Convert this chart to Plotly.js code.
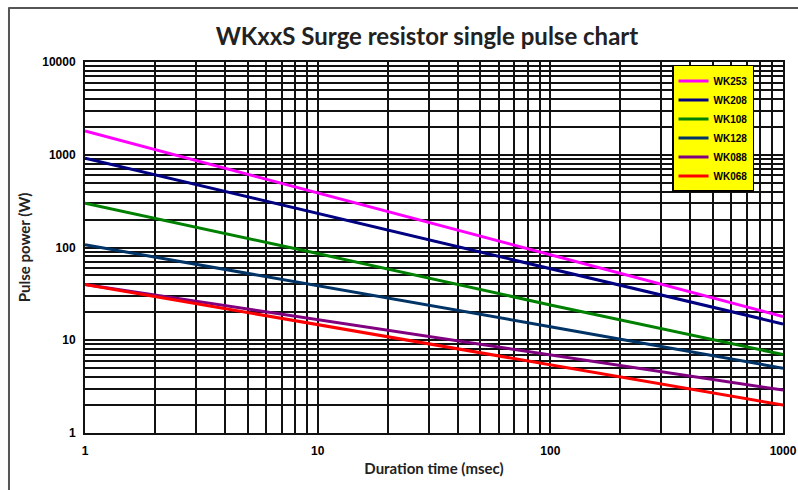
<!DOCTYPE html>
<html>
<head>
<meta charset="utf-8">
<script src="https://cdn.plot.ly/plotly-3.0.1.min.js"></script>
<style>html,body{margin:0;padding:0;background:#fff;}#chart{width:798px;height:490px;}</style>
</head>
<body>
<div id="chart"></div>
<script>
// Data
var durations = [1, 10, 100, 1000];
var seriesNames = ["WK253", "WK208", "WK108", "WK128", "WK088", "WK068"];
var wk253 = [1800, 390, 84, 18];
var wk208 = [920, 233, 59, 15];
var wk108 = [300, 86, 24, 7];
var wk128 = [107, 39, 14, 5];
var wk088 = [40, 16.6, 6.9, 2.9];
var wk068 = [40, 14.8, 5.5, 2.0];
var seriesColors = ["#FF00FF", "#000080", "#008000", "#003366", "#800080", "#FF0000"];
var xMajor = [1, 10, 100, 1000];
var yMajor = [1, 10, 100, 1000, 10000];

var allSeries = [wk253, wk208, wk108, wk128, wk088, wk068];
var traces = allSeries.map(function (vals, i) {
  return {
    x: durations, y: vals, name: seriesNames[i], type: "scatter", mode: "lines",
    line: {color: seriesColors[i], width: 3}
  };
});

function logTicks(majors) {
  var vals = [], text = [];
  for (var i = 0; i < majors.length; i++) {
    vals.push(majors[i]); text.push(String(majors[i]));
    if (i < majors.length - 1) {
      for (var k = 2; k <= 9; k++) { vals.push(majors[i] * k); text.push(""); }
    }
  }
  return {vals: vals, text: text};
}
var xt = logTicks(xMajor), yt = logTicks(yMajor);
var tickFont = {family: "Liberation Sans Narrow, Arial Narrow, Liberation Sans, sans-serif", size: 12, color: "#000", weight: "bold"};
var titleFont = {family: "Lato, Open Sans, sans-serif", size: 15, color: "#222", weight: "bold"};

var layout = {
  width: 798, height: 490,
  margin: {l: 85, r: 15, t: 62, b: 57},
  paper_bgcolor: "#fff", plot_bgcolor: "#fff",
  showlegend: true,
  title: {text: "WKxxS Surge resistor single pulse chart", x: 0.535, xanchor: "center", y: 0.925, yanchor: "middle",
          font: {family: "Lato, Open Sans, sans-serif", size: 24, color: "#222", weight: "bold"}},
  xaxis: {type: "log", range: [0, 3], tickvals: xt.vals, ticktext: xt.text, tickfont: tickFont, ticklabelstandoff: 6,
          showgrid: true, gridcolor: "#111", gridwidth: 2, zeroline: false, ticks: "",
          showline: true, linecolor: "#111", linewidth: 2, mirror: true,
          title: {text: "Duration time (msec)", standoff: 6, font: titleFont}},
  yaxis: {type: "log", range: [0, 4], tickvals: yt.vals, ticktext: yt.text, tickfont: tickFont, ticklabelstandoff: 5,
          showgrid: true, gridcolor: "#111", gridwidth: 2, zeroline: false, ticks: "",
          showline: true, linecolor: "#111", linewidth: 2, mirror: true,
          title: {text: "Pulse power (W)", standoff: 8, font: titleFont}},
  legend: {x: 0.841, y: 0.992, xanchor: "left", yanchor: "top", bgcolor: "#FFFF00", bordercolor: "#000", borderwidth: 1.5,
           entrywidth: 80, entrywidthmode: "pixels",
           font: {family: "Liberation Sans Narrow, Arial Narrow, sans-serif", size: 10, color: "#000", weight: "bold"}, tracegroupgap: 0},
  shapes: [
    {type: "line", xref: "paper", yref: "paper", x0: -0.11, x1: 1.03, y0: 1.1456, y1: 1.1456, line: {color: "#555", width: 2}},
    {type: "line", xref: "paper", yref: "paper", x0: -0.1089, x1: -0.1089, y0: 1.1456, y1: -0.2, line: {color: "#555", width: 2}}
  ]
};
Plotly.newPlot("chart", traces, layout, {displayModeBar: false, staticPlot: true});
</script>
</body>
</html>
